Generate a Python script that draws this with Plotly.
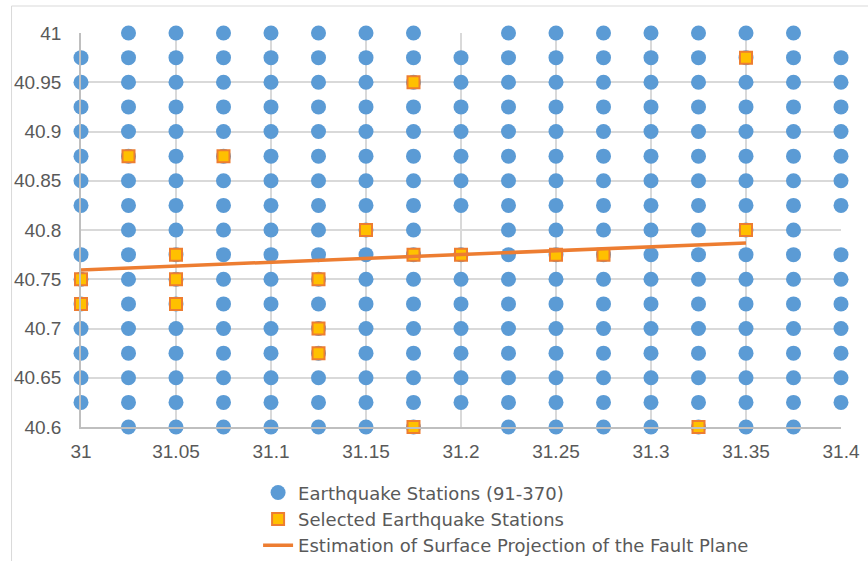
import plotly.graph_objects as go

# Station grid (longitude / latitude nodes, 0.025 deg spacing)
lon_values = [31.000, 31.025, 31.050, 31.075, 31.100, 31.125, 31.150, 31.175, 31.200,
              31.225, 31.250, 31.275, 31.300, 31.325, 31.350, 31.375, 31.400]
lat_values = [40.600, 40.625, 40.650, 40.675, 40.700, 40.725, 40.750, 40.775, 40.800,
              40.825, 40.850, 40.875, 40.900, 40.925, 40.950, 40.975, 41.000]
# Nodes without a station (corners of the 0.2 x 0.2 deg blocks)
missing_nodes = [(31.0, 40.6), (31.2, 40.6), (31.4, 40.6),
                 (31.0, 40.8), (31.2, 40.8), (31.4, 40.8),
                 (31.0, 41.0), (31.2, 41.0), (31.4, 41.0)]

# Selected stations
selected_lon = [31.025, 31.075, 31.175, 31.350, 31.150, 31.350, 31.050, 31.175, 31.200,
                31.250, 31.275, 31.000, 31.050, 31.125, 31.000, 31.050, 31.125, 31.125,
                31.175, 31.325]
selected_lat = [40.875, 40.875, 40.950, 40.975, 40.800, 40.800, 40.775, 40.775, 40.775,
                40.775, 40.775, 40.750, 40.750, 40.750, 40.725, 40.725, 40.700, 40.675,
                40.600, 40.600]

# Estimated surface trace of the fault plane
fault_lon = [31.000, 31.350]
fault_lat = [40.7595, 40.7868]

x_ticks = [31, 31.05, 31.1, 31.15, 31.2, 31.25, 31.3, 31.35, 31.4]
y_ticks = [40.6, 40.65, 40.7, 40.75, 40.8, 40.85, 40.9, 40.95, 41]

missing_set = {(round(a, 3), round(b, 3)) for a, b in missing_nodes}
station_lon, station_lat = [], []
for la in lat_values:
    for lo in lon_values:
        if (round(lo, 3), round(la, 3)) not in missing_set:
            station_lon.append(lo)
            station_lat.append(la)

TXT = "#595959"
TICK_FONT = dict(family="Liberation Sans", size=19, color=TXT)
LEGEND_FONT = dict(family="DejaVu Sans", size=18, color=TXT)

fig = go.Figure()
fig.add_trace(go.Scatter(
    x=station_lon, y=station_lat, mode="markers",
    name="Earthquake Stations (91-370)",
    marker=dict(symbol="circle", size=15, color="#5B9BD5"),
    cliponaxis=False,
))
fig.add_trace(go.Scatter(
    x=selected_lon, y=selected_lat, mode="markers",
    name="Selected Earthquake Stations",
    marker=dict(symbol="square", size=12, color="#FFC000",
                line=dict(color="#ED7D31", width=2)),
    cliponaxis=False,
))
fig.add_trace(go.Scatter(
    x=fault_lon, y=fault_lat, mode="lines",
    name="Estimation of Surface Projection of the Fault Plane",
    line=dict(color="#ED7D31", width=3.5),
    cliponaxis=False,
))

fig.update_layout(
    width=868, height=561,
    margin=dict(l=81, r=27, t=33, b=134, autoexpand=False),
    paper_bgcolor="white", plot_bgcolor="white",
    font=TICK_FONT,
    showlegend=True,
    legend=dict(
        orientation="v", x=0.233, xanchor="left", y=-0.12, yanchor="top",
        font=LEGEND_FONT,
        bgcolor="rgba(0,0,0,0)", tracegroupgap=0, itemwidth=30,
    ),
    shapes=[dict(type="rect", xref="paper", yref="paper",
                 x0=-0.0914, x1=1.2, y0=1.0685, y1=-0.6,
                 line=dict(color="#d9d9d9", width=1), layer="below")],
)
fig.update_xaxes(
    range=[31, 31.4], tickvals=x_ticks, ticktext=[f"{v:g}" for v in x_ticks],
    tickfont=TICK_FONT,
    showgrid=True, gridcolor="#d9d9d9", gridwidth=1.5,
    showline=True, linecolor="#bfbfbf", linewidth=1.5,
    zeroline=False, ticks="", ticklabelstandoff=6,
)
fig.update_yaxes(
    range=[40.6, 41], tickvals=y_ticks, ticktext=[f"{v:g}" for v in y_ticks],
    tickfont=TICK_FONT,
    showgrid=True, gridcolor="#d9d9d9", gridwidth=1.5,
    showline=True, linecolor="#bfbfbf", linewidth=1.5,
    zeroline=False, ticks="", ticklabelstandoff=14,
)

fig.write_html("out.html")
